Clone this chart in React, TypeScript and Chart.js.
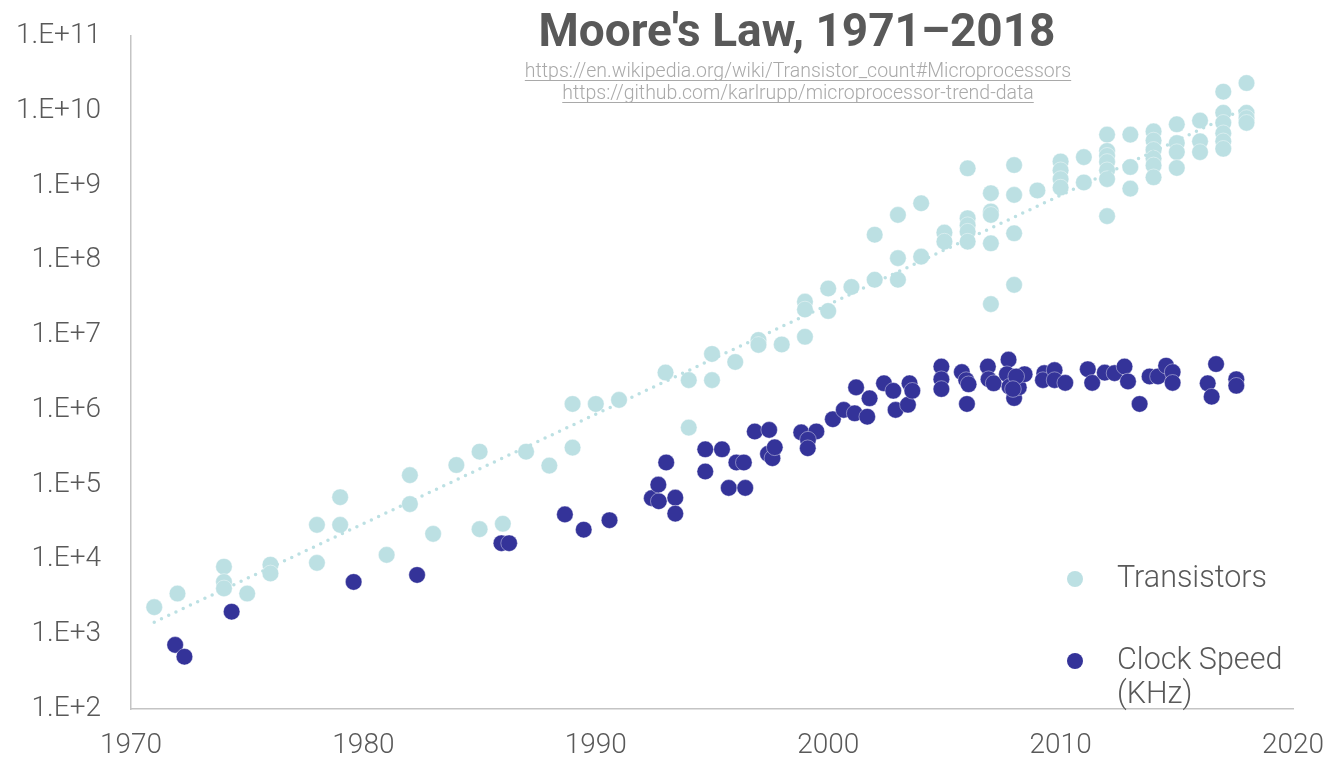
import { useEffect, useRef } from "react";
import { Chart, registerables } from "chart.js";

Chart.register(...registerables);

const transistorYears = [
  1971, 1972, 1974, 1974, 1974, 1975, 1976, 1976, 1978, 1978, 1979, 1979, 1981, 1982, 1982, 1983, 1984,
  1985, 1985, 1986, 1987, 1988, 1989, 1989, 1990, 1991, 1993, 1994, 1994, 1995, 1995, 1996, 1997, 1997,
  1998, 1999, 1999, 1999, 2000, 2000, 2001, 2002, 2002, 2003, 2003, 2003, 2004, 2004, 2005, 2005,
  2006, 2006, 2006, 2006, 2006, 2007, 2007, 2007, 2007, 2007, 2008, 2008, 2008, 2008, 2009,
  2010, 2010, 2010, 2010, 2011, 2011, 2012, 2012, 2012, 2012, 2012, 2012, 2012, 2013, 2013, 2013,
  2014, 2014, 2014, 2014, 2014, 2014, 2015, 2015, 2015, 2015, 2016, 2016, 2016,
  2017, 2017, 2017, 2017, 2017, 2017, 2018, 2018, 2018, 2018,
];
const transistorCounts = [
  2300, 3500, 8000, 5000, 4100, 3500, 8500, 6500, 29000, 9000, 68000, 29000, 11500, 134000, 55000, 22000, 183000,
  276000, 25400, 30000, 276000, 180000, 1200000, 313000, 1200000, 1360000, 3160000, 2500000, 580000, 5600000, 2500000, 4370000, 8600000, 7400000,
  7500000, 28000000, 22000000, 9500000, 42000000, 21000000, 44000000, 220000000, 55000000, 405000000, 107000000, 55000000, 580000000, 112000000, 235000000, 178000000,
  1700000000, 366000000, 295000000, 242000000, 178000000, 790000000, 450000000, 405000000, 169000000, 26000000, 1880000000, 750000000, 230000000, 47000000, 860000000,
  2100000000, 1600000000, 1220000000, 940000000, 2400000000, 1100000000, 4800000000, 2900000000, 2500000000, 2070000000, 1600000000, 1220000000, 390000000, 4800000000, 1770000000, 910000000,
  5300000000, 4000000000, 3000000000, 2300000000, 1860000000, 1290000000, 6600000000, 3700000000, 2800000000, 1720000000, 7400000000, 3900000000, 2800000000,
  18000000000, 9400000000, 6900000000, 5000000000, 3900000000, 3100000000, 23500000000, 9400000000, 8000000000, 6900000000,
];

const clockYears = [
  1971.9, 1972.3, 1974.33, 1979.58, 1982.31, 1985.94, 1986.27, 1988.67, 1989.48, 1990.59,
  1992.41, 1992.71, 1992.69, 1993.03, 1993.42, 1993.42, 1994.71, 1994.71, 1995.43, 1995.72,
  1996.43, 1996.05, 1996.37, 1996.84, 1997.46, 1997.41, 1997.6, 1997.7, 1998.84, 1999.49,
  1999.13, 1999.12, 2000.2, 2000.67, 2001.14, 2001.68, 2001.2, 2001.78, 2002.4, 2002.8,
  2002.9, 2003.43, 2003.5, 2003.62, 2004.87, 2004.87, 2004.87, 2005.75, 2005.94, 2006.04,
  2005.97, 2006.87, 2006.9, 2007.12, 2007.76, 2007.69, 2007.8, 2008.0, 2008.2, 2008.45,
  2008.09, 2007.95, 2009.3, 2009.24, 2009.74, 2009.74, 2010.2, 2011.17, 2011.36, 2011.9,
  2012.32, 2012.75, 2012.9, 2013.4, 2013.83, 2014.19, 2014.54, 2014.82, 2014.82, 2016.69,
  2016.33, 2016.5, 2017.56, 2017.56,
];
const clockKHz = [
  720, 500, 2000, 5000, 6200, 16500, 16500, 40000, 25000, 33500,
  66000, 60000, 100000, 198000, 67000, 41000, 297000, 150000, 297000, 90500,
  90500, 198000, 198000, 514000, 540000, 258000, 226000, 316000, 500000, 515000,
  400000, 307000, 750000, 1000000, 900000, 810000, 2000000, 1430000, 2270000, 1800000,
  1000000, 1170000, 2270000, 1800000, 3800000, 2570000, 1900000, 3200000, 2500000, 2200000,
  1200000, 3800000, 2570000, 2270000, 4700000, 3000000, 2040000, 1440000, 2000000, 3000000,
  2800000, 1900000, 3100000, 2500000, 3400000, 2500000, 2300000, 3500000, 2300000, 3150000,
  3100000, 3800000, 2400000, 1200000, 2800000, 2800000, 3900000, 3200000, 2300000, 4100000,
  2270000, 1500000, 2570000, 2100000,
];

const trendYears = [1971, 2018];
const trendValues = [1450, 11000000000];

const yTickValues = [1e2, 1e3, 1e4, 1e5, 1e6, 1e7, 1e8, 1e9, 1e10, 1e11];
const xTickValues = [1970, 1980, 1990, 2000, 2010, 2020];

const titleText = "Moore's Law, 1971–2018";
const sourceLinks = [
  "https://en.wikipedia.org/wiki/Transistor_count#Microprocessors",
  "https://github.com/karlrupp/microprocessor-trend-data",
];
const legendItems = [
  { lines: ["Transistors"], color: "#bce0e3" },
  { lines: ["Clock Speed", "(KHz)"], color: "#343399" },
];

const TEXT = "#595959";
const FONT = "Roboto, 'Noto Sans', sans-serif";

const overlayPlugin = {
  id: "overlay",
  afterDraw(chart: any) {
    const ctx = chart.ctx as CanvasRenderingContext2D;
    ctx.save();
    ctx.textAlign = "center";
    ctx.textBaseline = "alphabetic";
    ctx.fillStyle = TEXT;
    ctx.font = `bold 46px ${FONT}`;
    ctx.fillText(titleText, 797, 46);

    ctx.font = `300 19.5px ${FONT}`;
    ctx.fillStyle = "#a9a9a9";
    sourceLinks.forEach((t, i) => {
      const y = 77 + i * 22;
      ctx.fillText(t, 798, y);
      const w = ctx.measureText(t).width;
      ctx.fillRect(798 - w / 2, y + 3, w, 1);
    });

    // legend
    ctx.textAlign = "left";
    ctx.textBaseline = "middle";
    ctx.font = `300 30.5px ${FONT}`;
    const rows = [579, 661];
    legendItems.forEach((item, i) => {
      const y = rows[i];
      ctx.beginPath();
      ctx.arc(1075, y, 8, 0, Math.PI * 2);
      ctx.fillStyle = item.color;
      ctx.fill();
      ctx.fillStyle = TEXT;
      item.lines.forEach((line, j) => {
        ctx.fillText(line, 1117, y + j * 34);
      });
    });
    ctx.restore();
  },
};

const zeroPad = (scale: any) => {
  scale.paddingTop = 0;
  scale.paddingBottom = 0;
  scale.paddingLeft = 0;
  scale.paddingRight = 0;
};

export default function App() {
  const canvasRef = useRef<HTMLCanvasElement | null>(null);

  useEffect(() => {
    if (!canvasRef.current) return;
    const transistors = transistorYears.map((x, i) => ({ x, y: transistorCounts[i] }));
    const clock = clockYears.map((x, i) => ({ x, y: clockKHz[i] }));
    const trend = trendYears.map((x, i) => ({ x, y: trendValues[i] }));

    const chart = new Chart(canvasRef.current, {
      type: "scatter",
      data: {
        datasets: [
          {
            label: "Transistors",
            data: transistors,
            backgroundColor: "#bce0e3",
            borderColor: "rgba(255,255,255,0.8)",
            borderWidth: 0.5,
            pointRadius: 8.3,
            order: 3,
          },
          {
            label: "Trend",
            type: "line",
            data: trend,
            borderColor: "#bce0e3",
            borderWidth: 3.5,
            borderDash: [0, 8],
            borderCapStyle: "round",
            pointRadius: 0,
            fill: false,
            order: 2,
          } as any,
          {
            label: "Clock Speed (KHz)",
            data: clock,
            backgroundColor: "#343399",
            borderColor: "rgba(255,255,255,0.8)",
            borderWidth: 0.5,
            pointRadius: 8.3,
            order: 1,
          },
        ],
      },
      options: {
        animation: false,
        responsive: true,
        maintainAspectRatio: false,
        layout: { padding: { left: 0, right: 36, top: 36, bottom: 0 } },
        plugins: {
          legend: { display: false },
          title: { display: false },
          tooltip: { enabled: false },
        },
        scales: {
          x: {
            type: "linear",
            min: 1970,
            max: 2020,
            afterBuildTicks: (scale: any) => {
              scale.ticks = xTickValues.map((v) => ({ value: v }));
            },
            afterFit: (scale: any) => {
              scale.height = 54;
              zeroPad(scale);
            },
            grid: { display: false, drawTicks: false },
            border: { display: true, color: "#c4c4c4", width: 1.5 },
            ticks: {
              color: TEXT,
              font: { family: FONT, size: 28, weight: "300" },
              padding: 20,
              maxRotation: 0,
              callback: (v: any) => String(v),
            },
          },
          y: {
            type: "logarithmic",
            min: 100,
            max: 1e11,
            afterBuildTicks: (scale: any) => {
              scale.ticks = yTickValues.map((v) => ({ value: v }));
            },
            afterFit: (scale: any) => {
              scale.width = 131;
              zeroPad(scale);
            },
            grid: { display: false, drawTicks: false },
            border: { display: true, color: "#c4c4c4", width: 1.5 },
            ticks: {
              color: TEXT,
              font: { family: FONT, size: 28, weight: "300" },
              padding: 30,
              callback: (v: any) => "1.E+" + Math.round(Math.log10(Number(v))),
            },
          },
        },
      },
      plugins: [overlayPlugin],
    });
    return () => chart.destroy();
  }, []);

  return (
    <div style={{ position: "fixed", left: 0, top: 0, width: 1329, height: 763, background: "#ffffff" }}>
      <canvas ref={canvasRef} />
    </div>
  );
}
